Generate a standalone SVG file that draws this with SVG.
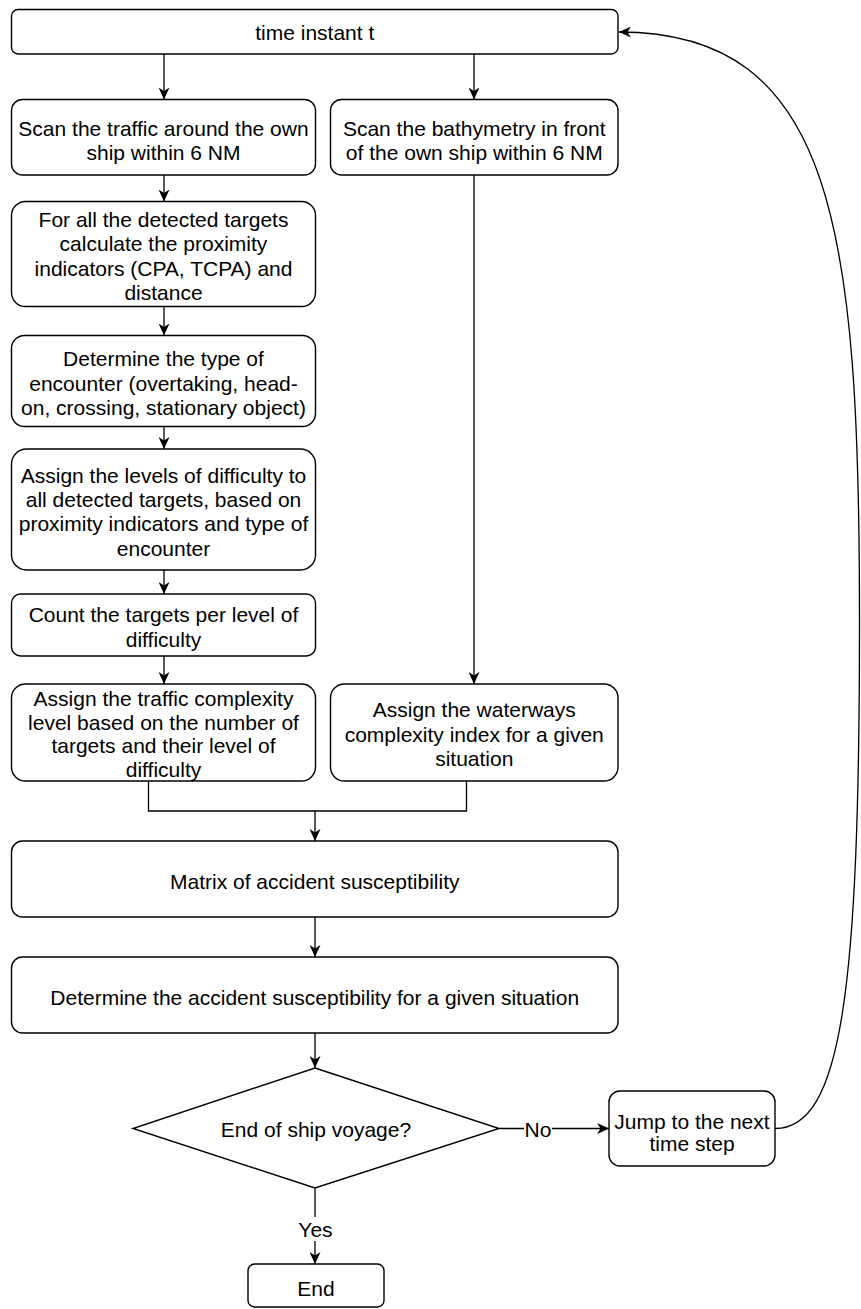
<svg xmlns="http://www.w3.org/2000/svg" width="861" height="1309" viewBox="0 0 861 1309">
  <style>
    .box { fill: #ffffff; stroke: #000000; stroke-width: 1.4; }
    .lbl { font-family: "Liberation Sans", Arial, sans-serif; font-size: 21px; fill: #000000; text-anchor: middle; dominant-baseline: central; }
    .edge { fill: none; stroke: #000000; stroke-width: 1.3; }
  </style>
  <defs>
    <marker id="arr" viewBox="0 0 12 11" refX="12" refY="5.5" markerWidth="12" markerHeight="11" markerUnits="userSpaceOnUse" orient="auto">
      <path d="M0,0 L12,5.5 L0,11 L3.5,5.5 Z" fill="#000000"/>
    </marker>
  </defs>
  <rect width="861" height="1309" fill="#ffffff"/>

  <g id="edges">
    <path class="edge" d="M164,54 L164,99.5" marker-end="url(#arr)"/>
    <path class="edge" d="M474,54 L474,99.5" marker-end="url(#arr)"/>
    <path class="edge" d="M164,175 L164,201.5" marker-end="url(#arr)"/>
    <path class="edge" d="M164,306.5 L164,335.5" marker-end="url(#arr)"/>
    <path class="edge" d="M164,426.5 L164,449" marker-end="url(#arr)"/>
    <path class="edge" d="M164,570 L164,594" marker-end="url(#arr)"/>
    <path class="edge" d="M164,656 L164,684" marker-end="url(#arr)"/>
    <path class="edge" d="M474,175 L474,684" marker-end="url(#arr)"/>
    <path class="edge" d="M148.5,781 L148.5,811 L466.5,811 L466.5,781"/>
    <path class="edge" d="M315,811 L315,841" marker-end="url(#arr)"/>
    <path class="edge" d="M315,917 L315,957" marker-end="url(#arr)"/>
    <path class="edge" d="M315,1033 L315,1068" marker-end="url(#arr)"/>
    <path class="edge" d="M499,1128.5 L609,1128.5" marker-end="url(#arr)"/>
    <path class="edge" d="M315,1188 L315,1264" marker-end="url(#arr)"/>
    <path class="edge" d="M775,1128.5 C842,1128.5 859.5,990 859.5,620 C859.5,230 835,32 619,32" marker-end="url(#arr)"/>
    <g id="edge-labels">
      <rect x="524" y="1118" width="28" height="22" fill="#ffffff"/>
      <text class="lbl" x="538" y="1129">No</text>
      <rect x="296" y="1217" width="38" height="24" fill="#ffffff"/>
      <text class="lbl" x="315.5" y="1229">Yes</text>
    </g>
  </g>

  <g id="n-time">
    <rect class="box" x="11.5" y="9.5" width="606.5" height="44.5" rx="6.5"/>
    <text class="lbl" x="314.75" y="32">time instant t</text>
  </g>
  <g id="n-scan-traffic">
    <rect class="box" x="11.5" y="99.5" width="304" height="75.5" rx="11"/>
    <text class="lbl" x="163.5" y="128">Scan the traffic around the own</text>
    <text class="lbl" x="163.5" y="152">ship within 6 NM</text>
  </g>
  <g id="n-scan-bathy">
    <rect class="box" x="330.5" y="99.5" width="287.5" height="75.5" rx="11"/>
    <text class="lbl" x="474.25" y="128">Scan the bathymetry in front</text>
    <text class="lbl" x="474.25" y="152">of the own ship within 6 NM</text>
  </g>
  <g id="n-proximity">
    <rect class="box" x="11.5" y="201.5" width="304" height="105" rx="14"/>
    <text class="lbl" x="163.5" y="219">For all the detected targets</text>
    <text class="lbl" x="163.5" y="243">calculate the proximity</text>
    <text class="lbl" x="163.5" y="268">indicators (CPA, TCPA) and</text>
    <text class="lbl" x="163.5" y="292">distance</text>
  </g>
  <g id="n-encounter">
    <rect class="box" x="11.5" y="335.5" width="304" height="91" rx="13"/>
    <text class="lbl" x="163.5" y="358">Determine the type of</text>
    <text class="lbl" x="163.5" y="383">encounter (overtaking, head-</text>
    <text class="lbl" x="163.5" y="407">on, crossing, stationary object)</text>
  </g>
  <g id="n-levels">
    <rect class="box" x="11.5" y="449" width="304" height="121" rx="15"/>
    <text class="lbl" x="163.5" y="475">Assign the levels of difficulty to</text>
    <text class="lbl" x="163.5" y="499">all detected targets, based on</text>
    <text class="lbl" x="163.5" y="523">proximity indicators and type of</text>
    <text class="lbl" x="163.5" y="548">encounter</text>
  </g>
  <g id="n-count">
    <rect class="box" x="11.5" y="594" width="304" height="62" rx="9"/>
    <text class="lbl" x="163.5" y="614">Count the targets per level of</text>
    <text class="lbl" x="163.5" y="639">difficulty</text>
  </g>
  <g id="n-traffic-complexity">
    <rect class="box" x="11.5" y="684" width="304" height="97" rx="14"/>
    <text class="lbl" x="163.5" y="698">Assign the traffic complexity</text>
    <text class="lbl" x="163.5" y="722">level based on the number of</text>
    <text class="lbl" x="163.5" y="745">targets and their level of</text>
    <text class="lbl" x="163.5" y="769">difficulty</text>
  </g>
  <g id="n-waterways">
    <rect class="box" x="330.5" y="684" width="287.5" height="97" rx="14"/>
    <text class="lbl" x="474.25" y="709">Assign the waterways</text>
    <text class="lbl" x="474.25" y="734">complexity index for a given</text>
    <text class="lbl" x="474.25" y="758">situation</text>
  </g>
  <g id="n-matrix">
    <rect class="box" x="11.5" y="841" width="606.5" height="76" rx="11"/>
    <text class="lbl" x="314.75" y="881">Matrix of accident susceptibility</text>
  </g>
  <g id="n-determine">
    <rect class="box" x="11.5" y="957" width="606.5" height="76" rx="11"/>
    <text class="lbl" x="314.75" y="997">Determine the accident susceptibility for a given situation</text>
  </g>
  <g id="n-decision">
    <polygon class="box" points="315,1068 499,1128.5 315,1188 133,1128.5"/>
    <text class="lbl" x="316" y="1129">End of ship voyage?</text>
  </g>
  <g id="n-jump">
    <rect class="box" x="609" y="1091" width="166" height="75" rx="11"/>
    <text class="lbl" x="692" y="1121">Jump to the next</text>
    <text class="lbl" x="692" y="1143">time step</text>
  </g>
  <g id="n-end">
    <rect class="box" x="248" y="1264" width="136" height="43" rx="6.5"/>
    <text class="lbl" x="316" y="1288">End</text>
  </g>
</svg>
